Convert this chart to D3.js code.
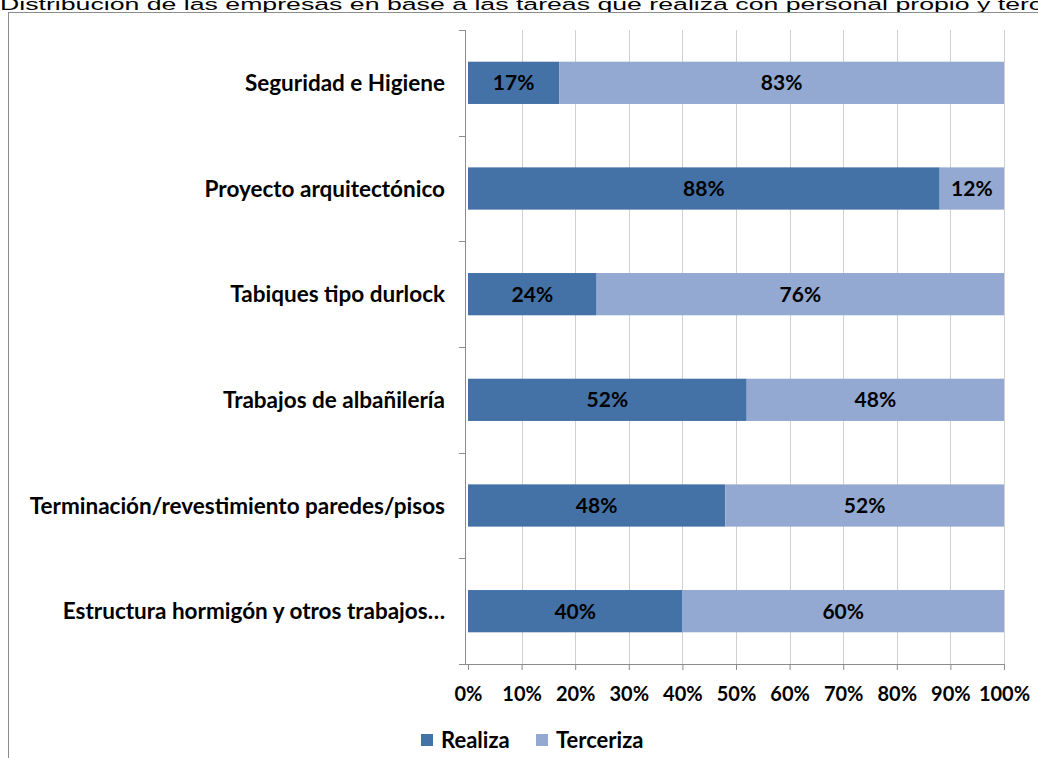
<!DOCTYPE html>
<html>
<head>
<meta charset="utf-8">
<script src="https://cdn.jsdelivr.net/npm/d3@7"></script>
<style>
  body { margin: 0; background: #fff; overflow: hidden; }
  text { font-family: Lato, "Open Sans", sans-serif; }
</style>
</head>
<body>
<div class="vis"></div>
<script>
const categories = [
  "Seguridad e Higiene",
  "Proyecto arquitectónico",
  "Tabiques tipo durlock",
  "Trabajos de albañilería",
  "Terminación/revestimiento paredes/pisos",
  "Estructura hormigón y otros trabajos…"
];
const realiza = [17, 88, 24, 52, 48, 40];
const terceriza = [83, 12, 76, 48, 52, 60];
const seriesNames = ["Realiza", "Terceriza"];
const colors = ["#4472a7", "#94a9d1"];
const xTicks = [0, 10, 20, 30, 40, 50, 60, 70, 80, 90, 100];

const W = 1038, H = 758;
const margin = { top: 30, right: 34, bottom: 94, left: 468 };

const svg = d3.select(".vis").append("svg")
  .attr("width", W).attr("height", H);

// title, clipped at the top and right like the reference
svg.append("text")
  .attr("transform", "translate(0,9.5) scale(1.57,1)")
  .style("font-family", "'Liberation Sans', Arial, sans-serif")
  .style("font-size", "17px")
  .attr("fill", "#000")
  .text("Distribución de las empresas en base a las tareas que realiza con personal propio y tercerizado");

// outer frame
svg.append("rect")
  .attr("x", 8.5).attr("y", 12.5)
  .attr("width", W + 10).attr("height", H + 10)
  .attr("fill", "none").attr("stroke", "#8c8c8c");

const x = d3.scaleLinear().domain([0, 100])
  .range([margin.left, W - margin.right]);
const y = d3.scaleBand().domain(categories)
  .range([margin.top, H - margin.bottom])
  .paddingInner(0.6).paddingOuter(0.3);

const rows = categories.map((c, i) => ({ name: c, vals: [realiza[i], terceriza[i]] }));
const stack = d3.stack().keys([0, 1]).value((d, k) => d.vals[k])(rows);

// gridlines
svg.append("g").selectAll("line").data(xTicks.slice(1)).join("line")
  .attr("x1", d => Math.round(x(d)) + 0.5).attr("x2", d => Math.round(x(d)) + 0.5)
  .attr("y1", margin.top).attr("y2", H - margin.bottom)
  .attr("stroke", "#d0d0d0");

// bars
svg.append("g").selectAll("g").data(stack).join("g")
  .attr("fill", (d, i) => colors[i])
  .selectAll("rect").data(d => d).join("rect")
  .attr("x", d => x(d[0]))
  .attr("y", d => y(d.data.name))
  .attr("width", d => x(d[1]) - x(d[0]))
  .attr("height", y.bandwidth());

// value labels
svg.append("g").selectAll("g").data(stack).join("g")
  .selectAll("text").data(d => d).join("text")
  .attr("x", d => (x(d[0]) + x(d[1])) / 2)
  .attr("y", d => y(d.data.name) + y.bandwidth() / 2)
  .attr("dy", "0.36em")
  .attr("text-anchor", "middle")
  .style("font-size", "21px").style("font-weight", "bold")
  .text(d => (d[1] - d[0]) + "%");

// y axis (category boundaries)
const yAxisX = margin.left - 3;
const bandH = (H - margin.bottom - margin.top) / categories.length;
const bounds = d3.range(categories.length + 1).map(i => margin.top + i * bandH);
const yg = svg.append("g");
yg.append("line")
  .attr("x1", yAxisX + 0.5).attr("x2", yAxisX + 0.5)
  .attr("y1", margin.top).attr("y2", H - margin.bottom)
  .attr("stroke", "#8c8c8c");
yg.selectAll("line.t").data(bounds).join("line").attr("class", "t")
  .attr("x1", yAxisX - 6).attr("x2", yAxisX)
  .attr("y1", d => Math.round(d) + 0.5).attr("y2", d => Math.round(d) + 0.5)
  .attr("stroke", "#8c8c8c");
yg.selectAll("text").data(categories).join("text")
  .attr("x", margin.left - 23)
  .attr("y", d => y(d) + y.bandwidth() / 2)
  .attr("dy", "0.36em")
  .attr("text-anchor", "end")
  .style("font-size", "22.5px").style("font-weight", "bold")
  .text(d => d);

// x axis
const xg = svg.append("g")
  .attr("transform", `translate(0,${H - margin.bottom})`)
  .call(d3.axisBottom(x).tickValues(xTicks).tickSize(6).tickFormat(d => d + "%"))
  .call(g => g.select(".domain").attr("d", `M${yAxisX - 6},0.5H${x(100)}`).attr("stroke", "#8c8c8c"));
xg.selectAll(".tick line").attr("stroke", "#8c8c8c");
xg.selectAll(".tick text")
  .attr("y", 23)
  .attr("fill", "#000")
  .style("font-family", "Lato, sans-serif")
  .style("font-size", "20px").style("font-weight", "bold");

// legend
const legend = svg.append("g").attr("transform", "translate(421,740)");
const li = legend.selectAll("g").data(seriesNames).join("g")
  .attr("transform", (d, i) => `translate(${i * 115},0)`);
li.append("rect").attr("x", 0).attr("y", -6).attr("width", 12).attr("height", 12)
  .attr("fill", (d, i) => colors[i]);
li.append("text").attr("x", 20).attr("dy", "0.36em")
  .style("font-size", "22px").style("font-weight", "bold")
  .text(d => d);
</script>
</body>
</html>
